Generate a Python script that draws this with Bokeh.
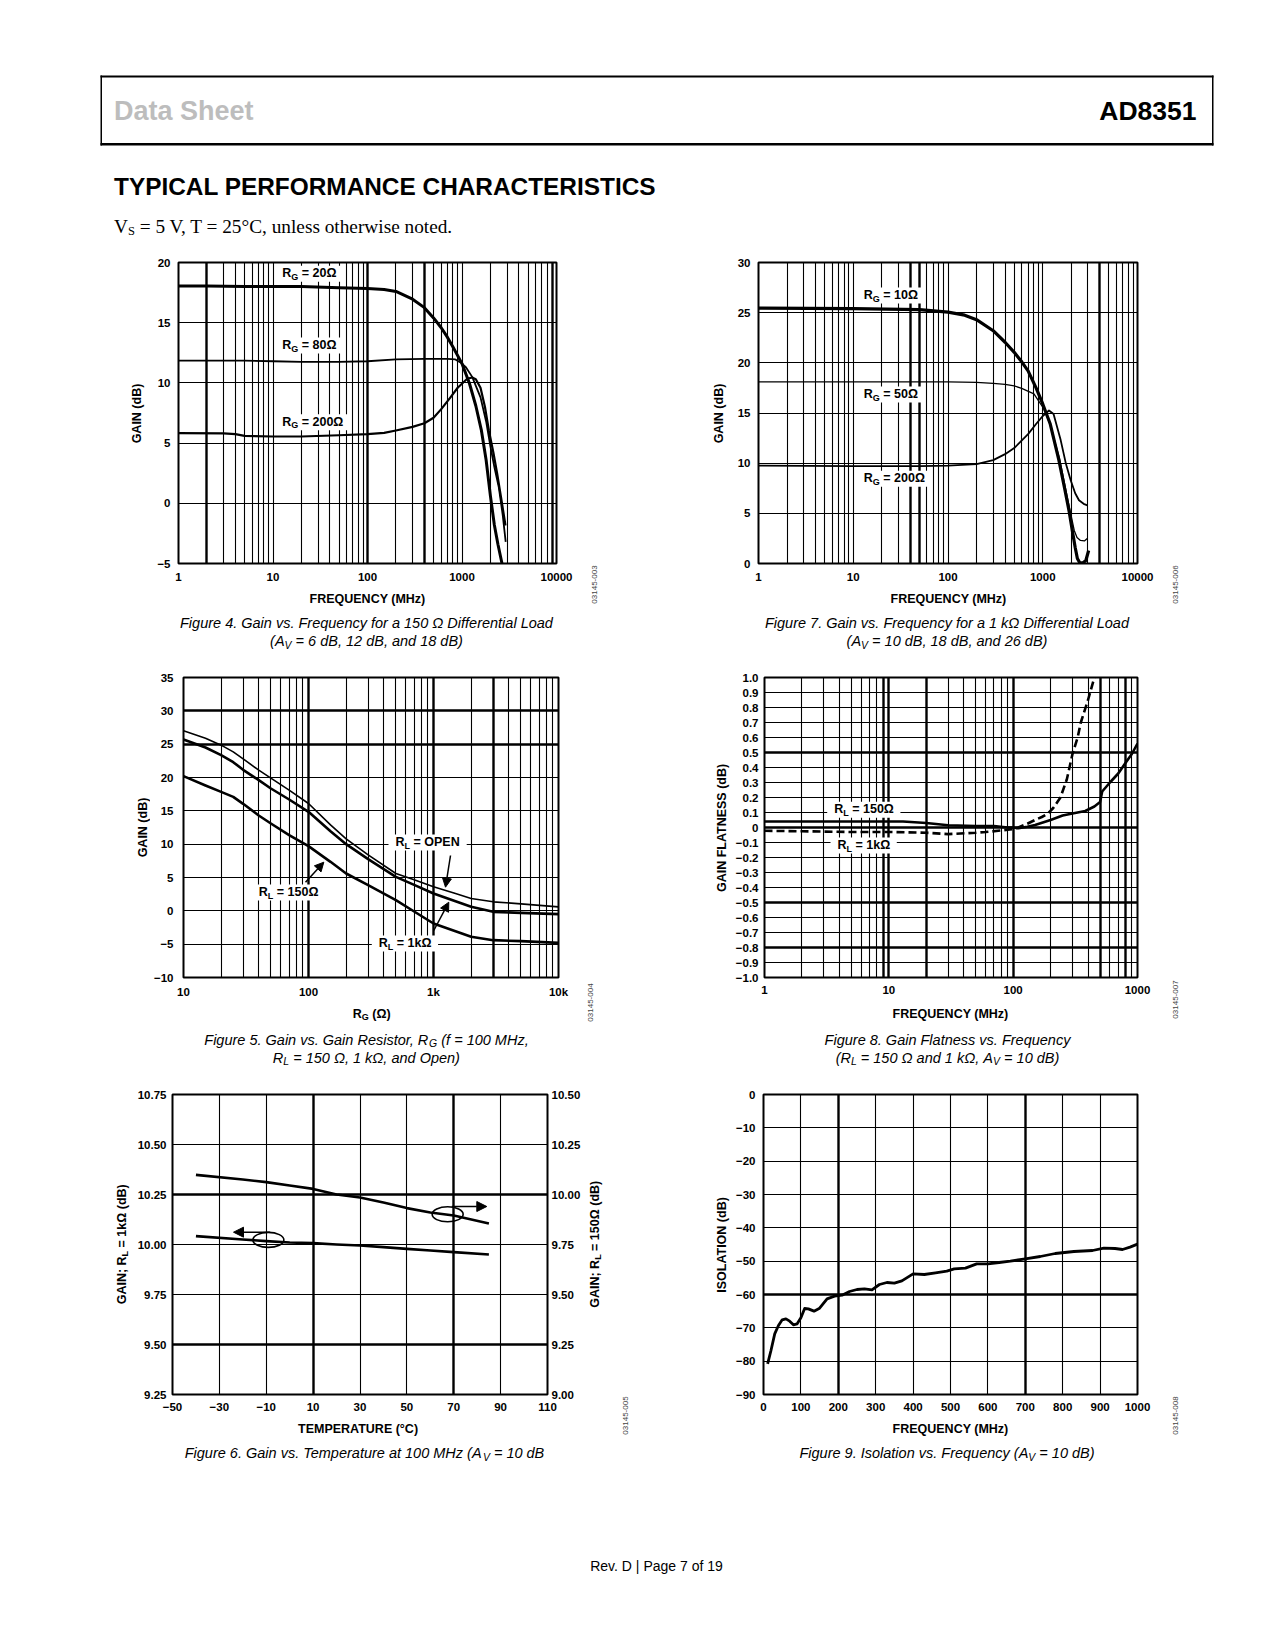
import math
from bokeh.plotting import figure
from bokeh.layouts import column, row
from bokeh.models import Label, BoxAnnotation, Arrow, NormalHead, FixedTicker, Grid, LinearAxis, Range1d
from bokeh.embed import file_html
from bokeh.resources import INLINE

# ---------------- DATA ----------------
# Figure 4: gain vs frequency, 150 ohm load
f4_rg20_freq = [1, 2, 5, 10, 20, 50, 100, 150, 200, 300, 400, 500, 600, 700, 800, 1000, 1200, 1400, 1600, 1800, 2000, 2200, 2400, 2650]
f4_rg20_gain = [18.05, 18.05, 18.0, 18.0, 18.0, 17.9, 17.85, 17.75, 17.6, 16.95, 16.25, 15.4, 14.6, 13.8, 13.0, 11.6, 9.95, 8.1, 6.1, 3.6, 0.6, -1.8, -3.4, -5.0]
f4_rg80_freq = [1, 5, 10, 20, 50, 100, 200, 400, 700, 850, 964, 1100, 1282, 1570, 1800, 2000, 2200, 2455, 2700, 2900]
f4_rg80_gain = [11.85, 11.85, 11.8, 11.75, 11.75, 11.8, 11.95, 12.0, 12.0, 11.95, 11.7, 11.3, 10.5, 8.8, 6.8, 4.7, 3.0, 1.3, -1.0, -3.2]
f4_rg200_freq = [1, 3, 4, 5, 10, 20, 50, 100, 150, 200, 300, 400, 500, 600, 755, 900, 1135, 1282, 1400, 1570, 1750, 1925, 2150, 2356, 2600, 2884]
f4_rg200_gain = [5.83, 5.8, 5.75, 5.6, 5.55, 5.55, 5.65, 5.75, 5.85, 6.05, 6.35, 6.65, 7.1, 7.8, 8.8, 9.6, 10.34, 10.45, 10.3, 9.6, 8.0, 6.05, 4.2, 2.45, 0.4, -1.84]
f4_xticks = [1, 10, 100, 1000, 10000]
f4_xlabels = ["1", "10", "100", "1000", "10000"]
f4_yticks = [-5, 0, 5, 10, 15, 20]
f4_ylabels = ["\u22125", "0", "5", "10", "15", "20"]

# Figure 7: gain vs frequency, 1 kohm load
f7_rg10_freq = [1, 10, 50, 100, 150, 200, 300, 400, 500, 600, 700, 850, 1000, 1200, 1480, 1700, 1890, 2050, 2200, 2320, 2450, 2650, 2850, 3050]
f7_rg10_gain = [25.45, 25.4, 25.3, 25.05, 24.75, 24.3, 23.2, 22.05, 21.05, 20.1, 19.2, 17.5, 15.9, 13.9, 10.3, 7.5, 5.3, 3.3, 1.6, 0.5, 0.1, 0.05, 0.3, 1.3]
f7_rg50_freq = [1, 10, 100, 200, 300, 400, 500, 600, 807, 1030, 1200, 1500, 1800, 2000, 2150, 2300, 2500, 2750, 2950]
f7_rg50_gain = [18.1, 18.1, 18.1, 18.05, 17.95, 17.85, 17.7, 17.45, 16.9, 15.4, 13.8, 10.5, 6.8, 4.7, 3.3, 2.6, 2.3, 2.25, 2.5]
f7_rg200_freq = [1, 10, 50, 100, 200, 300, 400, 500, 700, 850, 1000, 1164, 1300, 1546, 1750, 1972, 2200, 2413, 2700, 2960]
f7_rg200_gain = [9.75, 9.7, 9.7, 9.75, 9.9, 10.3, 10.9, 11.5, 12.9, 13.9, 14.7, 15.25, 14.9, 12.3, 10.0, 8.3, 7.0, 6.3, 5.95, 5.8]
f7_xticks = [1, 10, 100, 1000, 10000]
f7_xlabels = ["1", "10", "100", "1000", "10000"]
f7_yticks = [0, 5, 10, 15, 20, 25, 30]
f7_ylabels = ["0", "5", "10", "15", "20", "25", "30"]

# Figure 5: gain vs gain resistor
f5_rg = [10, 15, 20, 25, 30, 40, 50, 70, 100, 150, 200, 300, 500, 700, 1000, 1500, 2000, 3000, 5000, 10000]
f5_open = [27.0, 25.9, 24.85, 23.85, 22.8, 21.1, 19.9, 18.1, 16.1, 12.9, 10.8, 8.4, 5.6, 4.65, 3.6, 2.6, 1.85, 1.35, 1.05, 0.6]
f5_1k = [25.7, 24.5, 23.35, 22.3, 21.15, 19.6, 18.35, 16.7, 14.85, 11.95, 10.0, 7.75, 5.1, 3.9, 2.6, 1.45, 0.6, -0.15, -0.3, -0.5]
f5_150 = [20.2, 18.8, 17.85, 17.1, 16.05, 14.3, 13.1, 11.35, 9.7, 7.35, 5.6, 3.85, 1.6, -0.1, -1.9, -3.05, -3.9, -4.4, -4.55, -4.8]
f5_xticks = [10, 100, 1000, 10000]
f5_xlabels = ["10", "100", "1k", "10k"]
f5_yticks = [-10, -5, 0, 5, 10, 15, 20, 25, 30, 35]
f5_ylabels = ["\u221210", "\u22125", "0", "5", "10", "15", "20", "25", "30", "35"]

# Figure 8: gain flatness vs frequency
f8_150_freq = [1, 2, 5, 10, 13, 20, 30, 50, 70, 90, 100, 110, 130, 150, 200, 250, 300, 380, 450, 500, 520, 600, 700, 800, 900, 1000]
f8_150_flat = [0.04, 0.04, 0.04, 0.04, 0.04, 0.03, 0.015, 0.01, 0.01, 0.0, 0.0, -0.005, 0.005, 0.016, 0.05, 0.08, 0.093, 0.11, 0.14, 0.17, 0.24, 0.3, 0.36, 0.43, 0.49, 0.56]
f8_1k_freq = [1, 2, 5, 10, 20, 30, 50, 60, 80, 90, 100, 110, 130, 150, 170, 190, 210, 240, 270, 300, 330, 350, 400, 450]
f8_1k_flat = [-0.022, -0.025, -0.03, -0.03, -0.035, -0.044, -0.035, -0.03, -0.02, -0.015, -0.01, 0.0, 0.025, 0.05, 0.07, 0.093, 0.13, 0.2, 0.32, 0.49, 0.6, 0.7, 0.85, 1.0]
f8_xticks = [1, 10, 100, 1000]
f8_xlabels = ["1", "10", "100", "1000"]
f8_yticks = [round(-1.0 + 0.1 * i, 1) for i in range(21)]
f8_ylabels = ["\u22121.0", "\u22120.9", "\u22120.8", "\u22120.7", "\u22120.6", "\u22120.5", "\u22120.4", "\u22120.3", "\u22120.2", "\u22120.1",
              "0", "0.1", "0.2", "0.3", "0.4", "0.5", "0.6", "0.7", "0.8", "0.9", "1.0"]

# Figure 6: gain vs temperature
f6_temp = [-40, -20, -10, 0, 10, 20, 30, 40, 50, 60, 70, 85]
f6_gain_150 = [10.098, 10.075, 10.062, 10.045, 10.028, 10.0, 9.985, 9.96, 9.932, 9.91, 9.895, 9.855]   # right axis
f6_gain_1k = [10.042, 10.025, 10.017, 10.01, 10.007, 10.0, 9.995, 9.987, 9.978, 9.97, 9.962, 9.95]    # left axis
f6_xticks = [-50, -30, -10, 10, 30, 50, 70, 90, 110]
f6_xlabels = ["\u221250", "\u221230", "\u221210", "10", "30", "50", "70", "90", "110"]
f6_yticks_l = [9.25, 9.5, 9.75, 10.0, 10.25, 10.5, 10.75]
f6_ylabels_l = ["9.25", "9.50", "9.75", "10.00", "10.25", "10.50", "10.75"]
f6_yticks_r = [9.0, 9.25, 9.5, 9.75, 10.0, 10.25, 10.5]
f6_ylabels_r = ["9.00", "9.25", "9.50", "9.75", "10.00", "10.25", "10.50"]
f6_ellipse_t = [-9.1, 67.4]
f6_ellipse_g = [10.023, 10.151]

# Figure 9: isolation vs frequency
f9_freq = [11, 20, 30, 40, 50, 60, 70, 80, 90, 100, 110, 120, 135, 150, 170, 190, 210, 230, 250, 270, 290, 310, 330, 350, 370, 400,
           430, 460, 490, 510, 540, 570, 600, 630, 660, 700, 740, 780, 830, 880, 910, 940, 960, 980, 1000]
f9_iso = [-80.8, -76.8, -71.8, -69.3, -67.6, -67.3, -68.0, -69.1, -68.8, -67.0, -64.2, -64.3, -65.0, -64.1, -61.3, -60.5, -60.2,
          -59.1, -58.5, -58.3, -58.6, -57.0, -56.4, -56.6, -55.9, -53.8, -54.0, -53.5, -53.0, -52.3, -52.1, -50.8, -50.8, -50.4,
          -50.0, -49.3, -48.6, -47.7, -47.1, -46.8, -46.1, -46.2, -46.5, -45.8, -44.9]
f9_xticks = list(range(0, 1001, 100))
f9_xlabels = [str(v) for v in f9_xticks]
f9_yticks = list(range(-90, 1, 10))
f9_ylabels = ["\u2212%d" % (-v) if v < 0 else "0" for v in f9_yticks]

# ---------------- TEXT METRICS (Arial / Liberation Sans) ----------------
AR = {' ': 278, '(': 333, ')': 333, ',': 278, '-': 333, '.': 278, '=': 584, '|': 260, '\u00b0': 400, '\u03a9': 768, ';': 278,
      'A': 667, 'B': 667, 'C': 722, 'D': 722, 'E': 667, 'F': 611, 'G': 778, 'H': 722, 'I': 278, 'K': 667, 'L': 556, 'M': 833,
      'N': 722, 'O': 778, 'P': 667, 'R': 722, 'S': 667, 'T': 611, 'V': 667,
      'a': 556, 'b': 556, 'c': 500, 'd': 556, 'e': 556, 'f': 278, 'g': 556, 'h': 556, 'i': 222, 'k': 500, 'l': 222, 'm': 833,
      'n': 556, 'o': 556, 'p': 556, 'q': 556, 'r': 333, 's': 500, 't': 278, 'u': 556, 'v': 500, 'w': 722, 'x': 500, 'y': 500, 'z': 500}
AB = {' ': 278, '(': 333, ')': 333, ',': 278, '-': 333, '.': 278, ';': 333, '=': 584, '\u00b0': 400, '\u03a9': 768,
      'A': 722, 'B': 722, 'C': 722, 'D': 722, 'E': 667, 'F': 611, 'G': 778, 'H': 722, 'I': 278, 'L': 611, 'M': 833, 'N': 722,
      'O': 778, 'P': 667, 'Q': 778, 'R': 722, 'S': 667, 'T': 611, 'U': 722, 'Y': 667, 'd': 611, 'k': 556, 'z': 500}


def tw(t, size, bold):
    tab = AB if bold else AR
    return sum(tab.get(ch, 556) for ch in t) / 1000.0 * size


FONT = "Liberation Sans"


class Fig:
    """A Bokeh figure occupying page region (ox, oy, w, h); frame = (L, T, R, B) in page pixels."""

    def __init__(s, ox, oy, w, h, frame=None, xtype="linear", xr=(0, 1), yr=(0, 1)):
        axes = frame is not None
        if frame is None:
            frame = (ox, oy, ox + w, oy + h)
        L, T, R, B = frame
        s.L, s.T, s.R, s.B = L, T, R, B
        kw = dict(width=w, height=h, output_backend="svg", toolbar_location=None, title=None, min_border=0,
                  min_border_left=L - ox, min_border_right=ox + w - R, min_border_top=T - oy, min_border_bottom=oy + h - B,
                  x_range=Range1d(*xr), y_range=Range1d(*yr), x_axis_type=xtype)
        if not axes:
            kw.update(x_axis_location=None, y_axis_location=None)
        s.p = figure(**kw)
        s.p.grid.visible = False
        s.p.background_fill_color = "white"
        s.p.border_fill_color = "white"
        if axes:
            s.p.outline_line_color = "black"
            s.p.outline_line_width = 2
            s.p.outline_line_alpha = 1
        else:
            s.p.outline_line_color = None

    def text(s, px, py, t, size, style="normal", font=FONT, align="left", angle=0, color="black"):
        # (px, py): page position of the text's vertical middle
        s.p.add_layout(Label(x=px - s.L, y=s.B - py, x_units="screen", y_units="screen", text=t,
                             text_font=font, text_font_size="%.2fpx" % size, text_font_style=style,
                             text_align=align, text_baseline="middle", angle=angle, text_color=color))

    def rich(s, x, y, parts, size, style="bold", align="center", angle=0, color="black"):
        bold = "bold" in style
        sizes = [size * 0.72 if sub else size for _, sub in parts]
        widths = [tw(t, sz, bold) for (t, _), sz in zip(parts, sizes)]
        total = sum(widths)
        pos = -total / 2 if align == "center" else 0
        for (t, sub), sz, w in zip(parts, sizes, widths):
            d = size * 0.28 if sub else 0
            st = t.lstrip(" ")
            lead = tw(" " * (len(t) - len(st)), sz, bold)
            p0 = pos + lead
            if angle == 0:
                s.text(x + p0, y + d, st, sz, style=style, color=color)
            else:
                s.text(x + d, y - p0, st, sz, style=style, angle=math.pi / 2, color=color)
            pos += w
        return total

    def box(s, l, t, r, b, color="white"):
        s.p.add_layout(BoxAnnotation(left=l - s.L, right=r - s.L, top=s.B - t, bottom=s.B - b,
                                     left_units="screen", right_units="screen", top_units="screen", bottom_units="screen",
                                     fill_color=color, fill_alpha=1, line_color=None, level="annotation"))

    def tag(s, xl, yc, sub_letter, rest, size=12.5):
        parts = [("R", 0), (sub_letter, 1), (rest, 0)]
        w = sum(tw(t, size * 0.72 if sb else size, True) for t, sb in parts)
        s.box(xl - 7, yc - 8, xl + w + 7, yc + 8)
        s.rich(xl, yc - 0.5, parts, size, style="bold", align="left")

    def arrow(s, x0, y0, x1, y1, size=9, lw=1.5):
        s.p.add_layout(Arrow(end=NormalHead(size=size, fill_color="black", line_color="black", line_width=1),
                             x_start=x0 - s.L, y_start=s.B - y0, x_end=x1 - s.L, y_end=s.B - y1,
                             start_units="screen", end_units="screen", line_color="black", line_width=lw))

    def axes_style(s, ax, ticks, labels, standoff):
        ax.ticker = FixedTicker(ticks=ticks)
        ax.major_label_overrides = dict(zip(ticks, labels))
        ax.axis_line_color = None
        ax.major_tick_line_color = None
        ax.minor_tick_line_color = None
        ax.major_tick_out = 0
        ax.major_tick_in = 0
        ax.major_label_standoff = standoff
        ax.major_label_text_font = FONT
        ax.major_label_text_font_style = "bold"
        ax.major_label_text_font_size = "11.5px"
        ax.major_label_text_color = "black"

    def grid(s, dim, ticks, width):
        s.p.add_layout(Grid(dimension=dim, ticker=FixedTicker(ticks=ticks), grid_line_color="black",
                            grid_line_width=width, grid_line_alpha=1))

    def code(s, x, y, t):
        s.text(x, y, t, 8, align="center", angle=math.pi / 2, color="#444444")


class Cell:
    """Chart block: left strip (y title), chart figure, bottom strip (x title, caption), right strip (code)."""

    def __init__(s, ox, oy, w, h, cl, cr, cb, frame, xtype, xr, yr):
        s.Ls = Fig(ox, oy, cl - ox, h)
        s.c = Fig(cl, oy, cr - cl, cb - oy, frame, xtype, xr, yr)
        s.Bs = Fig(cl, cb, cr - cl, oy + h - cb)
        s.Rs = Fig(cr, oy, ox + w - cr, h)

    def layout(s):
        return row(column(s.Ls.p), column(column(s.c.p), column(s.Bs.p)), column(s.Rs.p))


def logs(d0, d1, skip):
    out = []
    for d in range(d0, d1):
        for k in range(1, 10):
            v = k * 10 ** d
            if v != skip:
                out.append(v)
    return out


THIN, THICK = 1.1, 2.4
TS, TT = 12.5, 14.5  # axis title size, caption size


def vgrid(c, allv, thick):
    c.grid(0, [v for v in allv if v not in thick], THIN)
    c.grid(0, thick, THICK)


def hgrid(c, allv, thick):
    c.grid(1, [v for v in allv if v not in thick], THIN)
    if thick:
        c.grid(1, thick, THICK)


def caption(f, x, y, parts):
    f.rich(x, y, parts, TT, style="italic")


# ---------------- HEADER ----------------
H = Fig(0, 0, 1275, 240)
H.box(100, 75, 1213, 77, "black")
H.box(100, 142.5, 1213, 145, "black")
H.box(100, 75, 101.5, 145, "black")
H.box(1211.5, 75, 1213, 145, "black")
H.text(113.5, 110.5, "Data Sheet", 27, style="bold", color="#bdbdbd")
H.text(1196, 110.5, "AD8351", 26.5, style="bold", align="right")
H.text(113.5, 185.5, "TYPICAL PERFORMANCE CHARACTERISTICS", 24.4, style="bold")
H.text(113.5, 225.5, "V", 19.3, font="Liberation Serif")
H.text(113.5 + 0.722 * 19.3, 230.5, "S", 12.5, font="Liberation Serif")
H.text(113.5 + 0.722 * 19.3 + 7 + 4.8, 225.5, "= 5 V, T = 25\u00b0C, unless otherwise noted.", 19.3, font="Liberation Serif")

# ---------------- FIGURE 4 ----------------
k4 = Cell(0, 240, 640, 420, 150, 580, 590, (178, 262, 556, 563), "log", (1, 10000), (-5, 20))
c4 = k4.c
vgrid(c4, logs(0, 4, 1), [2, 100, 400, 9000])
hgrid(c4, [0, 5, 10, 15], [])
c4.axes_style(c4.p.xaxis[0], f4_xticks, f4_xlabels, 9)
c4.axes_style(c4.p.yaxis[0], f4_yticks, f4_ylabels, 8)
c4.p.line(f4_rg80_freq, f4_rg80_gain, line_color="black", line_width=1.8, line_join="round")
c4.p.line(f4_rg200_freq, f4_rg200_gain, line_color="black", line_width=2.2, line_join="round")
c4.p.line(f4_rg20_freq, f4_rg20_gain, line_color="black", line_width=3.0, line_join="round")
c4.tag(281.7, 273.3, "G", " = 20\u03a9")
c4.tag(281.7, 345, "G", " = 80\u03a9")
c4.tag(281.7, 421.7, "G", " = 200\u03a9")
k4.Ls.rich(136.8, 413, [("GAIN (dB)", 0)], TS, angle=1)
k4.Bs.rich(367, 598.6, [("FREQUENCY (MHz)", 0)], TS)
caption(k4.Bs, 366, 622.8, [("Figure 4. Gain vs. Frequency for a 150 \u03a9 Differential Load", 0)])
caption(k4.Bs, 366, 640.7, [("(A", 0), ("V", 1), (" = 6 dB, 12 dB, and 18 dB)", 0)])
k4.Rs.code(594, 584, "03145-003")

# ---------------- FIGURE 7 ----------------
k7 = Cell(640, 240, 635, 420, 730, 1160, 590, (758, 262, 1137, 563), "log", (1, 10000), (0, 30))
c7 = k7.c
vgrid(c7, logs(0, 4, 1), [40, 50, 4000])
hgrid(c7, [5, 10, 15, 20, 25], [])
c7.axes_style(c7.p.xaxis[0], f7_xticks, f7_xlabels, 9)
c7.axes_style(c7.p.yaxis[0], f7_yticks, f7_ylabels, 8)
c7.p.line(f7_rg50_freq, f7_rg50_gain, line_color="black", line_width=1.3, line_join="round")
c7.p.line(f7_rg200_freq, f7_rg200_gain, line_color="black", line_width=1.8, line_join="round")
c7.p.line(f7_rg10_freq, f7_rg10_gain, line_color="black", line_width=3.2, line_join="round")
c7.tag(863.3, 295, "G", " = 10\u03a9")
c7.tag(863.3, 394, "G", " = 50\u03a9")
c7.tag(863.3, 478.3, "G", " = 200\u03a9")
k7.Ls.rich(718.5, 413, [("GAIN (dB)", 0)], TS, angle=1)
k7.Bs.rich(948, 598.6, [("FREQUENCY (MHz)", 0)], TS)
caption(k7.Bs, 946.5, 622.8, [("Figure 7. Gain vs. Frequency for a 1 k\u03a9 Differential Load", 0)])
caption(k7.Bs, 946.5, 640.7, [("(A", 0), ("V", 1), (" = 10 dB, 18 dB, and 26 dB)", 0)])
k7.Rs.code(1175, 584, "03145-006")

# ---------------- FIGURE 5 ----------------
k5 = Cell(0, 660, 640, 415, 150, 580, 1002, (183, 677, 558, 977), "log", (10, 10000), (-10, 35))
c5 = k5.c
vgrid(c5, logs(1, 4, 10), [100, 1000, 3000])
hgrid(c5, [-5, 0, 5, 10, 15, 20, 25, 30], [25, 30])
c5.axes_style(c5.p.xaxis[0], f5_xticks, f5_xlabels, 8)
c5.axes_style(c5.p.yaxis[0], f5_yticks, f5_ylabels, 10)
c5.p.line(f5_rg, f5_open, line_color="black", line_width=1.6, line_join="round")
c5.p.line(f5_rg, f5_1k, line_color="black", line_width=2.6, line_join="round")
c5.p.line(f5_rg, f5_150, line_color="black", line_width=2.6, line_join="round")
c5.tag(395, 842, "L", " = OPEN")
c5.tag(258.3, 892, "L", " = 150\u03a9")
c5.tag(378.3, 943, "L", " = 1k\u03a9")
c5.arrow(450, 855, 445, 886.7)
c5.arrow(305, 881.7, 323.3, 861.7)
c5.arrow(433.3, 930, 448.3, 901.7)
k5.Ls.rich(142, 827, [("GAIN (dB)", 0)], TS, angle=1)
k5.Bs.rich(371, 1013, [("R", 0), ("G", 1), (" (\u03a9)", 0)], TS)
caption(k5.Bs, 366, 1039, [("Figure 5. Gain vs. Gain Resistor, R", 0), ("G", 1), (" (f = 100 MHz,", 0)])
caption(k5.Bs, 366, 1057, [("R", 0), ("L", 1), (" = 150 \u03a9, 1 k\u03a9, and Open)", 0)])
k5.Rs.code(590, 1002, "03145-004")

# ---------------- FIGURE 8 ----------------
k8 = Cell(640, 660, 635, 415, 732, 1160, 1002, (762, 677, 1137, 977), "log", (1, 1000), (-1.0, 1.0))
c8 = k8.c
vgrid(c8, logs(0, 3, 1), [9, 10, 20, 100, 500, 800])
hgrid(c8, [round(-0.9 + 0.1 * i, 1) for i in range(19)], [0.5, 0.0, -0.5, -0.8])
c8.axes_style(c8.p.xaxis[0], f8_xticks, f8_xlabels, 8)
c8.axes_style(c8.p.yaxis[0], f8_yticks, f8_ylabels, 6)
c8.p.line(f8_150_freq, f8_150_flat, line_color="black", line_width=2.6, line_join="round")
c8.p.line(f8_1k_freq, f8_1k_flat, line_color="black", line_width=2.6, line_dash="8 4")
c8.tag(831.7, 809.3, "L", " = 150\u03a9")
c8.tag(835, 845, "L", " = 1k\u03a9")
k8.Ls.rich(721.7, 827, [("GAIN FLATNESS (dB)", 0)], TS, angle=1)
k8.Bs.rich(950, 1013, [("FREQUENCY (MHz)", 0)], TS)
caption(k8.Bs, 947, 1039, [("Figure 8. Gain Flatness vs. Frequency", 0)])
caption(k8.Bs, 947, 1057, [("(R", 0), ("L", 1), (" = 150 \u03a9 and 1 k\u03a9, A", 0), ("V", 1), (" = 10 dB)", 0)])
k8.Rs.code(1175, 999, "03145-007")

# ---------------- FIGURE 6 ----------------
k6 = Cell(0, 1075, 640, 395, 134, 583, 1418, (169, 1094, 547, 1394), "linear", (-50, 110), (9.25, 10.75))
c6 = k6.c
c6.p.extra_y_ranges = {"r": Range1d(9.0, 10.5)}
vgrid(c6, [-30, -10, 10, 30, 50, 70, 90], [10, 70])
hgrid(c6, [9.5, 9.75, 10.0, 10.25, 10.5], [9.5, 10.25])
c6.axes_style(c6.p.xaxis[0], f6_xticks, f6_xlabels, 8)
c6.axes_style(c6.p.yaxis[0], f6_yticks_l, f6_ylabels_l, 6)
rax = LinearAxis(y_range_name="r")
c6.axes_style(rax, f6_yticks_r, f6_ylabels_r, 4)
c6.p.add_layout(rax, "right")
c6.p.line(f6_temp, f6_gain_1k, line_color="black", line_width=2.6, line_join="round")
c6.p.line(f6_temp, f6_gain_150, line_color="black", line_width=2.6, line_join="round", y_range_name="r")
c6.p.ellipse(x=f6_ellipse_t, y=f6_ellipse_g, width=31, height=15, width_units="screen", height_units="screen",
             fill_color=None, line_color="black", line_width=1.6)
c6.arrow(266.7, 1231.7, 230, 1231.7, size=10, lw=1.6)
c6.arrow(448.3, 1206, 483.3, 1206, size=10, lw=1.6)
k6.Ls.rich(121, 1244, [("GAIN; R", 0), ("L", 1), (" = 1k\u03a9 (dB)", 0)], TS, angle=1)
k6.Rs.rich(594.4, 1244, [("GAIN; R", 0), ("L", 1), (" = 150\u03a9 (dB)", 0)], TS, angle=1)
k6.Bs.rich(358, 1428.6, [("TEMPERATURE (\u00b0C)", 0)], TS)
caption(k6.Bs, 364, 1452.8, [("Figure 6. Gain vs. Temperature at 100 MHz (A", 0), ("V", 1), (" = 10 dB", 0)])
k6.Rs.code(625, 1415, "03145-005")

# ---------------- FIGURE 9 ----------------
k9 = Cell(640, 1075, 635, 395, 732, 1160, 1418, (762, 1094, 1137, 1394), "linear", (0, 1000), (-90, 0))
c9 = k9.c
vgrid(c9, list(range(100, 1000, 100)), [200, 700])
hgrid(c9, list(range(-80, 0, 10)), [-60])
c9.axes_style(c9.p.xaxis[0], f9_xticks, f9_xlabels, 8)
c9.axes_style(c9.p.yaxis[0], f9_yticks, f9_ylabels, 8)
c9.p.line(f9_freq, f9_iso, line_color="black", line_width=2.8, line_join="round")
k9.Ls.rich(721.7, 1244, [("ISOLATION (dB)", 0)], TS, angle=1)
k9.Bs.rich(950, 1428.6, [("FREQUENCY (MHz)", 0)], TS)
caption(k9.Bs, 946.5, 1452.8, [("Figure 9. Isolation vs. Frequency (A", 0), ("V", 1), (" = 10 dB)", 0)])
k9.Rs.code(1175, 1415, "03145-008")

# ---------------- FOOTER ----------------
F = Fig(0, 1470, 1275, 150)
F.text(656, 1565.5, "Rev. D | Page 7 of 19", 14, align="center")

page = column(column(H.p), row(k4.layout(), k7.layout()), row(k5.layout(), k8.layout()), row(k6.layout(), k9.layout()), column(F.p))
open("out.html", "w").write(file_html(page, INLINE))
